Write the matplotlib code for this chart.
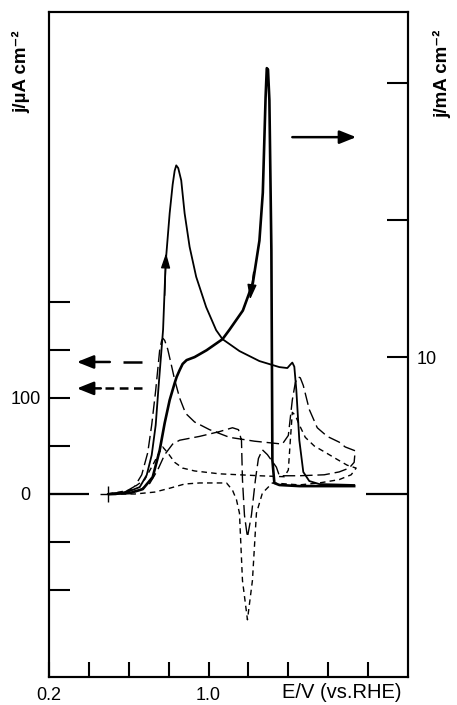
import matplotlib
matplotlib.use("Agg")
import matplotlib.pyplot as plt

plt.rcParams['font.family'] = ['Liberation Sans', 'DejaVu Sans']

# solid curves, right axis (mA cm-2)
fwd_E = [0.495, 0.555, 0.605, 0.655, 0.69, 0.715, 0.735, 0.75, 0.772, 0.785, 0.805, 0.82,
         0.83, 0.838, 0.848, 0.863, 0.88, 0.905, 0.938, 0.988, 1.038, 1.07, 1.155, 1.255,
         1.355, 1.395, 1.41, 1.42, 1.43, 1.44, 1.455, 1.475, 1.505, 1.555, 1.73]
fwd_j = [0.0, 0.07, 0.22, 0.51, 1.39, 2.85, 5.04, 7.96, 12.0, 16.9, 20.5, 22.6,
         23.6, 24.0, 23.8, 22.9, 20.5, 18.05, 15.86, 13.65, 11.97, 11.31, 10.44, 9.71,
         9.27, 9.2, 9.45, 9.6, 9.3, 7.6, 3.94, 1.61, 0.95, 0.73, 0.66]

rev_E = [1.73, 1.455, 1.355, 1.33, 1.32, 1.315, 1.305, 1.298, 1.292, 1.286, 1.272, 1.255,
         1.222, 1.172, 1.105, 1.07, 0.99, 0.93, 0.89, 0.87, 0.855, 0.84, 0.83, 0.805,
         0.78, 0.755, 0.72, 0.67, 0.605, 0.505]
rev_j = [0.58, 0.58, 0.66, 0.8, 2.48, 17.8, 28.76, 31.0, 31.1, 29.0, 22.0, 18.5,
         15.4, 13.4, 12.0, 11.31, 10.5, 10.0, 9.78, 9.5, 9.05, 8.55, 8.1, 6.86,
         5.18, 3.2, 1.24, 0.36, 0.07, 0.0]

# long dash curve, left axis (uA cm-2)
ld_E = [0.495, 0.58, 0.63, 0.665, 0.695, 0.715, 0.735, 0.755, 0.765, 0.772, 0.78, 0.795,
        0.815, 0.83, 0.855, 0.885, 0.93, 1.005, 1.105, 1.23, 1.37, 1.40, 1.42, 1.435,
        1.448, 1.46, 1.475, 1.505, 1.545, 1.595, 1.635, 1.655, 1.685, 1.735,
        1.73, 1.705, 1.655, 1.58, 1.455, 1.355, 1.34, 1.295, 1.27, 1.25, 1.235, 1.215,
        1.195, 1.18, 1.17, 1.165, 1.15, 1.12, 1.055, 0.955, 0.855, 0.82, 0.78, 0.745,
        0.705, 0.655, 0.58, 0.505]
ld_j = [0, 2, 8, 20, 43, 72, 108, 150, 160, 162, 160, 151,
        133, 119, 100, 84, 75, 67, 59, 55, 52, 61, 98, 116,
        122, 121, 113, 88, 69, 60, 56, 54, 49, 45,
        33, 27, 23, 20, 19, 19, 28, 41, 46, 37, 15, -22,
        -45, -22, 15, 56, 67, 69, 65, 60, 56, 52, 41, 25,
        11, 4, 1, 0]

# short dash curve, left axis (uA cm-2)
sd_E = [0.495, 0.605, 0.68, 0.72, 0.755, 0.77, 0.795, 0.83, 0.87, 0.93, 1.055, 1.255,
        1.38, 1.40, 1.41, 1.42, 1.435, 1.455, 1.485, 1.53, 1.58, 1.645, 1.695, 1.74,
        1.715, 1.655, 1.555, 1.455, 1.32, 1.27, 1.24, 1.22, 1.195, 1.17, 1.155, 1.14,
        1.12, 1.09, 0.955, 0.88, 0.805, 0.73, 0.63, 0.505]
sd_j = [0, 4, 15, 30, 44, 49, 43, 33, 27, 24, 21, 19,
        18, 25, 56, 85, 82, 72, 59, 50, 44, 36, 30, 27,
        20, 15, 11.5, 9.5, 11.5, 1, -20, -90, -131, -90, -20, -6,
        4, 11.5, 11.5, 10.4, 6, 2, 0, 0]

fig = plt.figure(figsize=(4.57, 7.05), dpi=100)
ax = fig.add_axes([0.1072, 0.0397, 0.7856, 0.9433])
ax2 = ax.twinx()

ax.set_xlim(0.2, 2.0)
ax.set_ylim(-190.6, 502)
ax2.set_ylim(-13.36, 35.2)

ax.plot(ld_E, ld_j, color='k', lw=1.0, ls=(0, (9, 3.5)))
ax.plot(sd_E, sd_j, color='k', lw=1.0, ls=(0, (4, 3)))
ax2.plot(fwd_E, fwd_j, color='k', lw=1.3)
ax2.plot(rev_E, rev_j, color='k', lw=1.9)

# start marker and zero line pieces
ax.plot([0.495], [0], marker='+', color='k', ms=11, mew=1.0)
ax.plot([0.2, 0.4], [0, 0], color='k', lw=1.6, solid_capstyle='butt')
ax.plot([1.79, 2.0], [0, 0], color='k', lw=1.6, solid_capstyle='butt')

# scan direction arrowheads
hp = dict(arrowstyle='-|>,head_length=0.9,head_width=0.28', color='k', lw=1.0,
          shrinkA=0, shrinkB=0)
ax2.annotate('', xy=(0.787, 17.6), xytext=(0.78, 14.5), arrowprops=hp)
ax2.annotate('', xy=(1.208, 14.2), xytext=(1.226, 16.2), arrowprops=hp)

# axis pointer arrows
big = dict(arrowstyle='-|>,head_length=1.0,head_width=0.4', color='k', lw=1.8,
           shrinkA=0, shrinkB=0)
ax2.annotate('', xy=(1.74, 26.06), xytext=(1.42, 26.06), arrowprops=big)
ax.annotate('', xy=(0.34, 137.5), xytext=(0.505, 137.5), arrowprops=big)
ax.plot([0.57, 0.665], [137.5, 137.5], color='k', lw=1.8, solid_capstyle='butt')
ax.annotate('', xy=(0.34, 110), xytext=(0.46, 110), arrowprops=big)
ax.plot([0.48, 0.665], [110, 110], color='k', lw=1.8, ls=(0, (3.5, 2.2)))

# ticks
ax.set_xticks([0.2, 0.4, 0.6, 0.8, 1.0, 1.2, 1.4, 1.6, 1.8])
ax.set_xticklabels(['0.2', '', '', '', '1.0', '', '', '', ''])
ax.set_yticks([-100, -50, 0, 50, 100, 150, 200])
ax.set_yticklabels(['', '', '0', '', '100', '', ''])
ax2.set_yticks([10, 20, 30])
ax2.set_yticklabels(['10', '', ''])

ax.tick_params(axis='x', direction='in', length=11, width=1.5, pad=7, labelsize=13)
ax.tick_params(axis='y', direction='in', length=15, width=1.5, pad=17, labelsize=13)
ax2.tick_params(axis='y', direction='in', length=15, width=1.5, pad=6, labelsize=13)
for lbl in ax.get_yticklabels():
    lbl.set_horizontalalignment('center')

for a in (ax, ax2):
    for s in a.spines.values():
        s.set_linewidth(1.5)

fig.text(0.046, 0.898, 'j/µA cm⁻²', rotation=90, ha='center', va='center',
         fontsize=13.5, fontweight='bold')
fig.text(0.967, 0.895, 'j/mA cm⁻²', rotation=90, ha='center', va='center',
         fontsize=13.5, fontweight='bold')
fig.text(0.748, 0.018, 'E/V (vs.RHE)', ha='center', va='center', fontsize=14.5)

fig.savefig('out.png', dpi=100)
